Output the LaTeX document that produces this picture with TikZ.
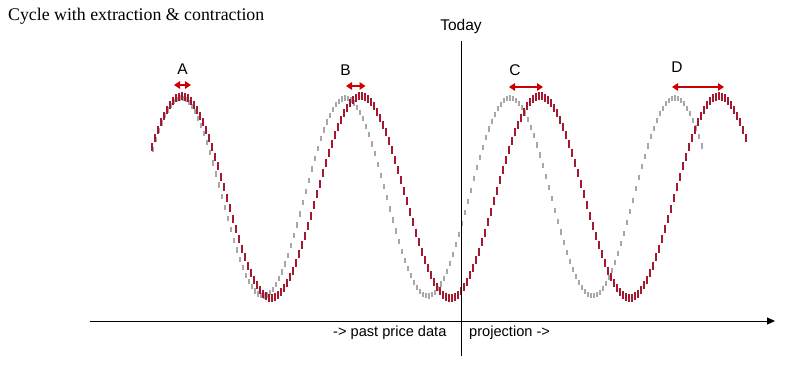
\documentclass[tikz,border=0pt]{standalone}
\usepackage{fontspec}
\setmainfont{Liberation Serif}
\setsansfont{Liberation Sans}
\usetikzlibrary{arrows.meta}
\definecolor{tickred}{RGB}{165,25,48}
\definecolor{tickgray}{RGB}{168,168,168}
\definecolor{arrred}{RGB}{204,0,0}
\tikzset{
  redtick/.style={draw=tickred,line width=1.3pt},
  graytick/.style={draw=tickgray,line width=1.05pt},
  shiftarrow/.style={draw=arrred,line width=2pt,{Triangle[length=6pt,width=7.5pt]}-{Triangle[length=6pt,width=7.5pt]}},
  axisline/.style={draw=black,line width=1pt},
  lbl/.style={inner sep=0pt,anchor=base,font=\sffamily\fontsize{15.5}{18}\selectfont},
  axlbl/.style={inner sep=0pt,anchor=base west,font=\sffamily\fontsize{14.6}{17}\selectfont},
}
\begin{document}
\begin{tikzpicture}[x=1pt,y=-1pt]
\useasboundingbox[fill=white] (0,0) rectangle (793,365);
% title
\node[inner sep=0pt,anchor=base west,font=\rmfamily\fontsize{17.8}{20}\selectfont] (title) at (8,20.5) {Cycle with extraction \& contraction};
% gray (original) cycle
\foreach \i in {0,...,183} {
  \pgfmathsetmacro\xx{153+3*\i}
  \pgfmathsetmacro\yy{197-99*cos(((\xx-181)/164.67)*360)}
  \draw[graytick] (\xx,\yy-2.6) -- (\xx,\yy+2.6);
}
% red (extracted) cycle
\foreach \i in {0,...,198} {
  \pgfmathsetmacro\xx{152+3*\i}
  \pgfmathsetmacro\yy{197-101*cos(((\xx-182)/179)*360)}
  \draw[redtick] (\xx,\yy-4) -- (\xx,\yy+4);
}
% axes
\coordinate (xs) at (90,321);
\coordinate (xe) at (775,321);
\draw[axisline,-{Triangle[length=8pt,width=7pt]}] (xs) -- (xe);
\node[lbl] (today) at (461,30.5) {Today};
\coordinate (vt) at (461,41);
\coordinate (vb) at (461,356);
\draw[axisline] (vt) -- (vb);
\node[axlbl] (past) at (333,336) {-> past price data};
\node[axlbl] (proj) at (469,336) {projection ->};
% shift arrows
\coordinate (a1) at (174,85); \coordinate (a2) at (191,85);
\coordinate (b1) at (346,86); \coordinate (b2) at (365.5,86);
\coordinate (c1) at (509,87); \coordinate (c2) at (543,87);
\coordinate (d1) at (672,87); \coordinate (d2) at (724,87);
\draw[shiftarrow] (a1) -- (a2);
\draw[shiftarrow] (b1) -- (b2);
\draw[shiftarrow] (c1) -- (c2);
\draw[shiftarrow] (d1) -- (d2);
\node[lbl] (A) at (182.5,74) {A};
\node[lbl] (B) at (345.5,75) {B};
\node[lbl] (C) at (515,75) {C};
\node[lbl] (D) at (677,72) {D};
\end{tikzpicture}
\end{document}
